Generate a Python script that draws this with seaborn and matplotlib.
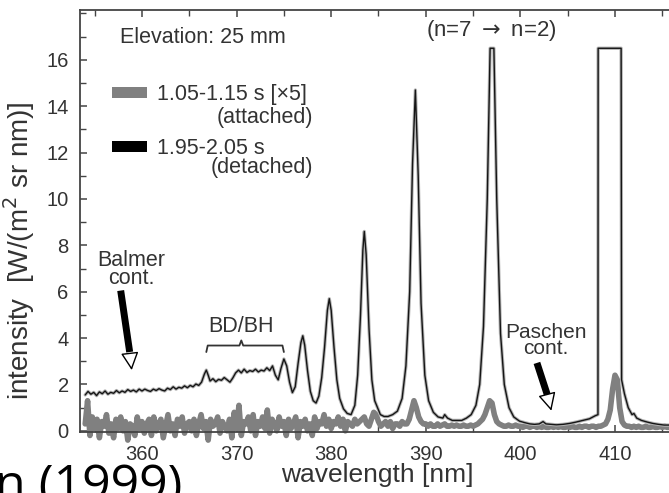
import numpy as np
import pandas as pd
import matplotlib
matplotlib.use("Agg")
import matplotlib.pyplot as plt
import matplotlib.patheffects as pe
from matplotlib.patches import Patch
from matplotlib.ticker import MultipleLocator
import seaborn as sns

# ---------------- data ----------------
# detached spectrum, 1.95-2.05 s  (wavelength nm, intensity)
det_wl = [354.0, 354.3, 354.6, 354.9, 355.2, 355.5, 355.8, 356.1, 356.4, 356.7,
          357.0, 357.3, 357.6, 357.9, 358.2, 358.5, 358.8, 359.1, 359.4, 359.7,
          360.0, 360.3, 360.6, 360.9, 361.2, 361.5, 361.8, 362.1, 362.4, 362.7,
          363.0, 363.3, 363.6, 363.9, 364.2, 364.5, 364.8, 365.1, 365.4, 365.7,
          366.0, 366.3, 366.6, 366.8, 367.0, 367.2, 367.5, 367.8, 368.1, 368.4,
          368.7, 369.0, 369.3, 369.6, 369.9, 370.2, 370.5, 370.8, 371.1, 371.4,
          371.7, 372.0, 372.3, 372.6, 372.9, 373.2, 373.5, 373.8, 374.1, 374.4,
          374.7, 375.0, 375.3, 375.6, 375.9, 376.2, 376.5, 376.8, 377.0, 377.2,
          377.5, 377.8, 378.1, 378.4, 378.7, 379.0, 379.3, 379.6, 379.8, 380.0,
          380.3, 380.6, 380.9, 381.3, 381.7, 382.1, 382.5, 382.8, 383.1, 383.35,
          383.5, 383.7, 384.0, 384.3, 384.6, 384.9, 385.2, 385.6, 386.0, 386.5,
          387.0, 387.5, 387.9, 388.3, 388.6, 388.9, 389.2, 389.5, 389.9, 390.3,
          390.8, 391.3, 391.8, 392.0, 392.3, 392.8, 393.3, 393.8, 394.3, 394.8,
          395.3, 395.7, 396.1, 396.5, 396.8, 397.2, 397.5, 397.9, 398.3, 398.8,
          399.3, 399.9, 400.5, 401.0, 401.5, 402.0, 402.4, 402.7, 403.2, 403.8,
          404.5, 405.2, 405.9, 406.6, 407.3, 407.9, 408.2, 408.22, 410.65, 410.7,
          411.0, 411.4, 411.8, 412.0, 412.3, 412.8, 413.4, 414.0, 414.6, 415.2,
          415.8]
det_int = [1.55, 1.70, 1.58, 1.66, 1.52, 1.68, 1.60, 1.72, 1.58, 1.66,
           1.62, 1.74, 1.64, 1.72, 1.66, 1.78, 1.70, 1.76, 1.68, 1.80,
           1.72, 1.80, 1.74, 1.70, 1.80, 1.74, 1.82, 1.76, 1.72, 1.84,
           1.78, 1.90, 1.80, 1.88, 1.84, 1.94, 1.86, 1.96, 1.90, 2.02,
           1.96, 2.10, 2.45, 2.62, 2.40, 2.15, 2.25, 2.12, 2.22, 2.18,
           2.30, 2.20, 2.10, 2.28, 2.50, 2.62, 2.50, 2.66, 2.52, 2.60,
           2.56, 2.66, 2.54, 2.62, 2.58, 2.72, 2.60, 2.80, 2.40, 2.20,
           2.70, 3.10, 2.80, 2.10, 1.65, 1.90, 2.90, 3.80, 4.10, 3.70,
           2.60, 1.70, 1.30, 1.20, 1.50, 2.30, 3.60, 5.20, 5.70, 5.20,
           3.60, 2.20, 1.40, 0.95, 0.75, 0.70, 1.10, 2.40, 5.00, 7.80,
           8.60, 7.60, 4.40, 2.20, 1.30, 1.00, 0.70, 0.62, 0.62, 0.70,
           0.85, 1.40, 2.80, 6.00, 11.5, 14.7, 11.0, 5.50, 2.40, 1.30,
           0.80, 0.60, 0.55, 0.70, 0.55, 0.45, 0.45, 0.45, 0.55, 0.70,
           1.10, 2.00, 4.50, 10.0, 16.5, 16.5, 10.0, 4.20, 2.00, 1.00,
           0.60, 0.42, 0.35, 0.30, 0.28, 0.30, 0.40, 0.30, 0.28, 0.26,
           0.28, 0.32, 0.38, 0.45, 0.52, 0.65, 0.70, 16.5, 16.5, 2.20,
           1.60, 1.00, 0.70, 0.75, 0.55, 0.45, 0.38, 0.32, 0.28, 0.25,
           0.25]

# attached spectrum x5, 1.05-1.15 s, sampled every 0.25 nm from 354.0 nm
att_start, att_step = 354.0, 0.25
att_int = [0.3, 1.3, -0.2, 0.6,   0.1, 0.5, -0.3, 0.4,   0.2, 0.7, -0.1, 0.3,
           -0.3, 0.5, 0.1, 0.6,   0.0, 0.4, -0.4, 0.3,   0.2, -0.2, 0.6, 0.1,
           0.4, -0.1, 0.3, 0.5,   -0.2, 0.6, 0.0, 0.3,   0.5, -0.3, 0.2, 0.7,
           0.0, 0.3, -0.2, 0.5,   0.2, 0.6, -0.1, 0.3,   0.4, 0.0, 0.5, -0.2,
           0.3, 0.7, 0.1, 0.4,   -0.4, 0.5, 0.2, 0.3,   0.6, -0.1, 0.4, 0.2,
           0.0, 0.5, -0.3, 0.8,   0.1, 1.1, -0.2, 0.4,   0.3, 0.6, 0.0, 0.7,
           -0.2, 0.4, 0.2, 0.6,   0.1, 0.9, -0.1, 0.5,   0.3, 0.0, 0.6, 0.2,
           0.4, -0.2, 0.5, 0.1,   0.3, 0.6, -0.3, 0.4,   0.2, 0.5, 0.0, 0.3,
           -0.2, 0.6, 0.1, 0.4,   0.3, 0.7, 0.2, 0.5,   0.1, 0.4, 0.3, 0.6,
           0.2, 0.5, 0.0, 0.4,   0.3, 0.2, 0.5, 0.3,   0.4, 0.5, 0.6, 0.3,
           0.2, 0.5, 0.8, 0.7,   0.4, 0.2, 0.3, 0.4,   0.2, 0.4, 0.1, 0.3,
           0.3, 0.2, 0.4, 0.3,   0.3, 0.5, 0.9, 1.3,   1.0, 0.6, 0.4, 0.3,
           0.3, 0.2, 0.3, 0.2,   0.2, 0.3, 0.2, 0.25,  0.3, 0.2, 0.2, 0.25,
           0.2, 0.25, 0.2, 0.2,  0.25, 0.2, 0.2, 0.25, 0.2, 0.25, 0.3, 0.4,
           0.5, 0.7, 1.0, 1.3,   1.2, 0.7, 0.4, 0.3,   0.25, 0.2, 0.2, 0.25,
           0.2, 0.2, 0.25, 0.2,  0.2, 0.15, 0.2, 0.2,  0.15, 0.2, 0.2, 0.15,
           0.2, 0.15, 0.2, 0.15, 0.15, 0.2, 0.15, 0.2, 0.15, 0.2, 0.15, 0.15,
           0.2, 0.15, 0.2, 0.15, 0.15, 0.2, 0.15, 0.2, 0.2, 0.15, 0.2, 0.2,
           0.15, 0.2, 0.2, 0.25, 0.3, 0.5, 0.9, 1.8,   2.4, 2.2, 1.0, 0.4,
           0.25, 0.2, 0.2, 0.15, 0.2, 0.15, 0.2, 0.15, 0.15, 0.2, 0.15, 0.15,
           0.2, 0.15, 0.15, 0.2, 0.15, 0.2, 0.15, 0.15]
att_wl = att_start + att_step * np.arange(len(att_int))

x_ticks = [360, 370, 380, 390, 400, 410]
y_ticks = [0, 2, 4, 6, 8, 10, 12, 14, 16]

legend_labels = ["1.05-1.15 s [\u00d75]", "1.95-2.05 s"]
legend_sub = ["(attached)", "(detached)"]

# ---------------- figure ----------------
sns.set_style("ticks")
plt.rcParams["font.family"] = ["Liberation Sans", "DejaVu Sans"]

fig = plt.figure(figsize=(6.69, 4.93), dpi=100)
ax = fig.add_axes([0.1203, 0.1237, 0.8797, 0.856])

df_att = pd.DataFrame({"wl": att_wl, "I": att_int})
df_det = pd.DataFrame({"wl": det_wl, "I": det_int})

sns.lineplot(data=df_att, x="wl", y="I", ax=ax, color="#808080", lw=4.0,
             estimator=None, sort=False, clip_on=False, zorder=2)
sns.lineplot(data=df_det, x="wl", y="I", ax=ax, color="#151515", lw=1.0,
             estimator=None, sort=False, zorder=3,
             path_effects=[pe.Stroke(linewidth=2.4, foreground="#b5b5b5"), pe.Normal()])

ax.set_xlim(353.5, 415.71)
ax.set_ylim(-0.05, 18.15)
ax.set_xticks(x_ticks)
ax.set_yticks(y_ticks)
ax.xaxis.set_minor_locator(MultipleLocator(5))
ax.yaxis.set_minor_locator(MultipleLocator(1))
ax.tick_params(axis="both", which="both", direction="in", top=True, right=False,
               color="#444444", labelcolor="#333333", labelsize=14.5)
ax.tick_params(which="major", length=5, width=1.1)
ax.tick_params(which="minor", length=4, width=1.0)
ax.tick_params(axis="x", which="major", pad=9)
ax.tick_params(axis="y", which="major", pad=8.5)
for side in ["left", "top", "bottom"]:
    ax.spines[side].set_color("#444444")
    ax.spines[side].set_linewidth(1.3)
ax.spines["right"].set_visible(False)

ax.set_xlabel("wavelength [nm]", fontsize=19, color="#333333")
ax.xaxis.set_label_coords(0.505, -0.073)
ax.set_ylabel("intensity  [W/(m$^2$ sr nm)]", fontsize=20, color="#333333")
ax.yaxis.set_label_coords(-0.074, 0.43)

# legend
handles = [Patch(facecolor="#808080", edgecolor="none"),
           Patch(facecolor="black", edgecolor="none")]
leg = ax.legend(handles, legend_labels, loc="upper left",
                bbox_to_anchor=(0.0535, 0.824), frameon=False, fontsize=15.5,
                handlelength=1.65, handleheight=0.45, handletextpad=0.45,
                labelspacing=1.52, borderpad=0, borderaxespad=0)
for t in leg.get_texts():
    t.set_color("#333333")
ax.text(378.1, 13.5, legend_sub[0], ha="right", va="center", fontsize=15.5, color="#333333")
ax.text(378.1, 11.35, legend_sub[1], ha="right", va="center", fontsize=15.5, color="#333333")

ax.text(357.7, 16.95, "Elevation: 25 mm", ha="left", va="center", fontsize=15.5, color="#333333")
ax.text(396.9, 17.25, "(n=7 $\\rightarrow$ n=2)", ha="center", va="center", fontsize=16,
        color="#333333")

# Balmer continuum
ax.text(358.85, 6.95, "Balmer\ncont.", ha="center", va="center", fontsize=15.5,
        color="#333333", linespacing=0.78)
ax.plot([357.75, 358.7], [6.05, 3.4], color="black", lw=5, solid_capstyle="butt")
ax.annotate("", xy=(358.95, 2.5), xytext=(358.68, 3.45),
            arrowprops=dict(arrowstyle="-|>,head_length=1.1,head_width=0.55",
                            fc="white", ec="black", lw=1.0))

# Paschen continuum
ax.text(402.7, 3.9, "Paschen\ncont.", ha="center", va="center", fontsize=15,
        color="#333333", linespacing=0.78)
ax.plot([401.75, 402.85], [2.93, 1.55], color="black", lw=5, solid_capstyle="butt")
ax.annotate("", xy=(403.35, 0.75), xytext=(402.8, 1.6),
            arrowprops=dict(arrowstyle="-|>,head_length=1.1,head_width=0.55",
                            fc="white", ec="black", lw=1.0))

# BD/BH brace
ax.text(370.5, 4.5, "BD/BH", ha="center", va="center", fontsize=15.5, color="#333333")
ax.plot([366.8, 366.95, 370.3, 370.5, 370.7, 374.85, 375.0],
        [3.40, 3.68, 3.68, 3.90, 3.68, 3.68, 3.40], color="#333333", lw=1.3)

# slide remnant text at the bottom-left
fig.text(-0.008, -0.014, "n (1999)", ha="left", va="baseline", fontsize=36,
         family=["Open Sans", "DejaVu Sans"], color="black")

fig.savefig("out.png", dpi=100)
